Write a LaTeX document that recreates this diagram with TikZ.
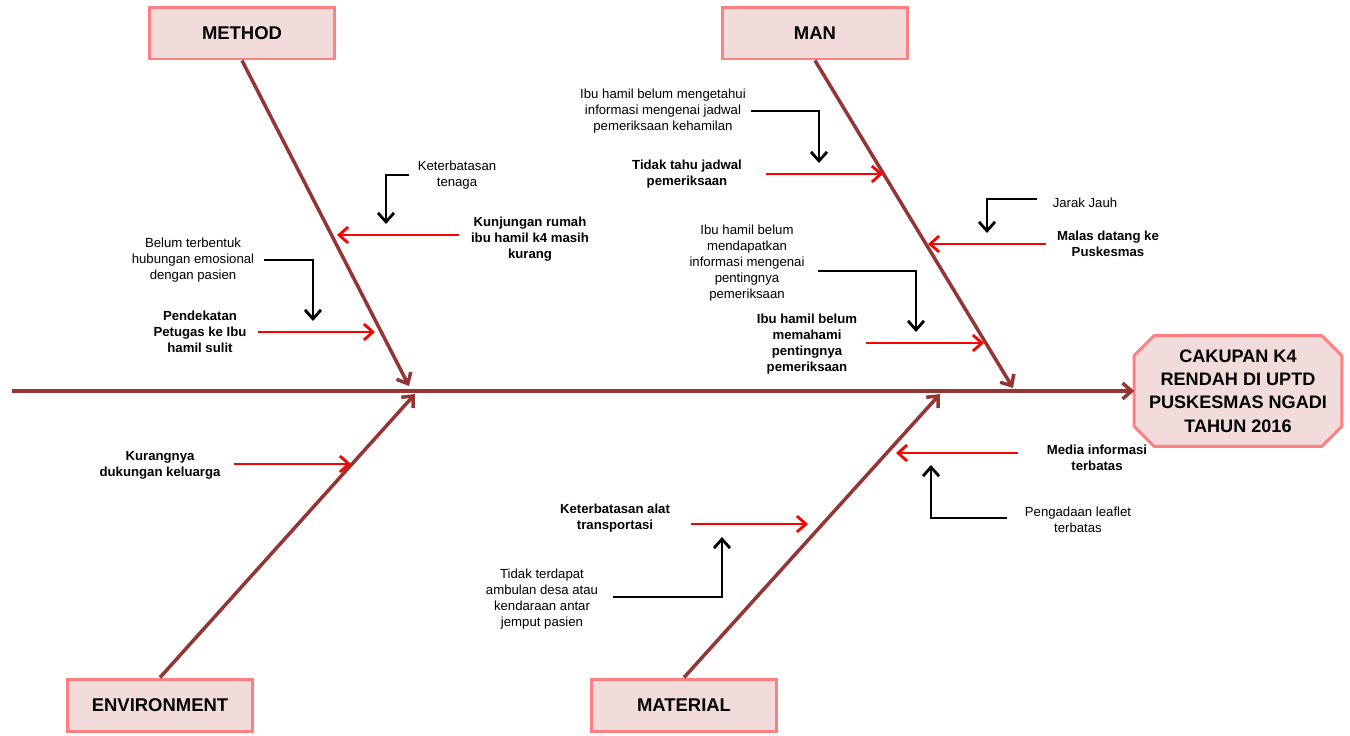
\documentclass[tikz,border=0pt]{standalone}
\usepackage{fontspec}
\setmainfont{Liberation Sans}
\usetikzlibrary{arrows.meta}
\pgfdeclarelayer{background}
\pgfsetlayers{background,main}
\definecolor{boxfill}{HTML}{F2DCDB}
\definecolor{boxline}{HTML}{FF8080}
\definecolor{bonecolor}{HTML}{943634}

\begin{document}
\begin{tikzpicture}[x=0.02cm,y=-0.02cm,
    category/.style={draw=boxline,fill=boxfill,line width=1.7pt,minimum width=3.72cm,minimum height=1.04cm,font={\bfseries\fontsize{10.5}{12}\selectfont}},
    effect/.style={minimum width=4.14cm,minimum height=2.2cm,align=center,font={\bfseries\fontsize{10.3}{13.3}\selectfont}},
    effectline/.style={draw=boxline,fill=boxfill,line width=1.7pt,line join=round},
    cause/.style={align=center,inner sep=0pt,font={\bfseries\fontsize{7.5}{9}\selectfont}},
    subcause/.style={align=center,inner sep=0pt,font={\fontsize{7.5}{9}\selectfont}},
    bone/.style={draw=bonecolor,line width=2pt,-{Straight Barb[length=1.8mm,width=3.2mm]}},
    causearrow/.style={draw=red,line width=1.6pt,-{Straight Barb[length=1.8mm,width=3.2mm]}},
    subarrow/.style={draw=black,line width=1.6pt,-{Straight Barb[length=1.8mm,width=3.2mm]}}]

    \useasboundingbox (0,0) rectangle (1350,735);

    \node[effect] (effect) at (1238,391) {CAKUPAN K4\\RENDAH DI UPTD\\PUSKESMAS NGADI\\TAHUN 2016};
    \begin{pgfonlayer}{background}
        \draw[effectline] ([xshift=0.4cm]effect.north west) -- ([xshift=-0.4cm]effect.north east)
            -- ([yshift=-0.4cm]effect.north east) -- ([yshift=0.4cm]effect.south east)
            -- ([xshift=-0.4cm]effect.south east) -- ([xshift=0.4cm]effect.south west)
            -- ([yshift=0.4cm]effect.south west) -- ([yshift=-0.4cm]effect.north west) -- cycle;
    \end{pgfonlayer}

    \node[category] (method) at (242,33) {METHOD};
    \node[category] (man) at (815,33) {MAN};
    \node[category] (environment) at (160,705) {ENVIRONMENT};
    \node[category] (material) at (684,705) {MATERIAL};

    \coordinate (tail) at (12,391);
    \coordinate (methodend) at (409,386);
    \coordinate (manend) at (1013,388);
    \coordinate (environmentend) at (415,394);
    \coordinate (materialend) at (940,394);

    \node[cause] (kunjungan) at (530,239) {Kunjungan rumah\\ibu hamil k4 masih\\kurang};
    \node[subcause] (tenaga) at (457,175) {Keterbatasan\\tenaga};
    \node[cause] (pendekatan) at (200,332) {Pendekatan\\Petugas ke Ibu\\hamil sulit};
    \node[subcause] (emosional) at (193,260) {Belum terbentuk\\hubungan emosional\\dengan pasien};

    \node[cause] (jadwal) at (687,174) {Tidak tahu jadwal\\pemeriksaan};
    \node[subcause] (mengetahui) at (663,111) {Ibu hamil belum mengetahui\\informasi mengenai jadwal\\pemeriksaan kehamilan};
    \node[cause] (malas) at (1108,244) {Malas datang ke\\Puskesmas};
    \node[subcause] (jarak) at (1085,203) {Jarak Jauh};
    \node[cause] (memahami) at (807,344) {Ibu hamil belum\\memahami\\pentingnya\\pemeriksaan};
    \node[subcause] (mendapatkan) at (747,263) {Ibu hamil belum\\mendapatkan\\informasi mengenai\\pentingnya\\pemeriksaan};

    \node[cause] (media) at (1097,458) {Media informasi\\terbatas};
    \node[subcause] (leaflet) at (1078,520) {Pengadaan leaflet\\terbatas};
    \node[cause] (transportasi) at (615,518) {Keterbatasan alat\\transportasi};
    \node[subcause] (ambulan) at (542,599) {Tidak terdapat\\ambulan desa atau\\kendaraan antar\\jemput pasien};

    \node[cause] (keluarga) at (160,465) {Kurangnya\\dukungan keluarga};

    \coordinate (kunjungantip) at (337,235);
    \coordinate (pendekatantip) at (375,332);
    \coordinate (jadwaltip) at (883,174);
    \coordinate (malastip) at (928,244);
    \coordinate (memahamitip) at (984,343);
    \coordinate (mediatip) at (896,453);
    \coordinate (transportasitip) at (808,524);
    \coordinate (keluargatip) at (351,464);

    \coordinate (tenagatip) at (386,224);
    \coordinate (emosionaltip) at (313,321);
    \coordinate (mengetahuitip) at (819,163);
    \coordinate (jaraktip) at (987,233);
    \coordinate (mendapatkantip) at (916,332);
    \coordinate (leaflettip) at (931,465);
    \coordinate (ambulantip) at (722,537);

    \draw[bone] (tail) -- (effect.west);
    \draw[bone] (method.south) -- (methodend);
    \draw[bone] (man.south) -- (manend);
    \draw[bone] (environment.north) -- (environmentend);
    \draw[bone] (material.north) -- (materialend);

    \draw[causearrow,shorten <=0.24cm] (kunjungantip -| kunjungan.west) -- (kunjungantip);
    \draw[causearrow,shorten <=0.22cm] (pendekatantip -| pendekatan.east) -- (pendekatantip);
    \draw[causearrow,shorten <=0.48cm] (jadwaltip -| jadwal.east) -- (jadwaltip);
    \draw[causearrow,shorten <=0.22cm] (malastip -| malas.west) -- (malastip);
    \draw[causearrow,shorten <=0.16cm] (memahamitip -| memahami.east) -- (memahamitip);
    \draw[causearrow,shorten <=0.58cm] (mediatip -| media.west) -- (mediatip);
    \draw[causearrow,shorten <=0.42cm] (transportasitip -| transportasi.east) -- (transportasitip);
    \draw[causearrow,shorten <=0.26cm] (keluargatip -| keluarga.east) -- (keluargatip);

    \draw[subarrow,shorten <=0.16cm] (tenaga.west) -| (tenagatip);
    \draw[subarrow,shorten <=0.18cm] (emosional.east) -| (emosionaltip);
    \draw[subarrow,shorten <=0.1cm] (mengetahui.east) -| (mengetahuitip);
    \draw[subarrow,shorten <=0.3cm] ([yshift=0.08cm]jarak.west) -| (jaraktip);
    \draw[subarrow,shorten <=0.26cm] ([yshift=-0.16cm]mendapatkan.east) -| (mendapatkantip);
    \draw[subarrow,shorten <=0.36cm] ([yshift=0.04cm]leaflet.west) -| (leaflettip);
    \draw[subarrow,shorten <=0.3cm] ([yshift=0.04cm]ambulan.east) -| (ambulantip);
\end{tikzpicture}
\end{document}
